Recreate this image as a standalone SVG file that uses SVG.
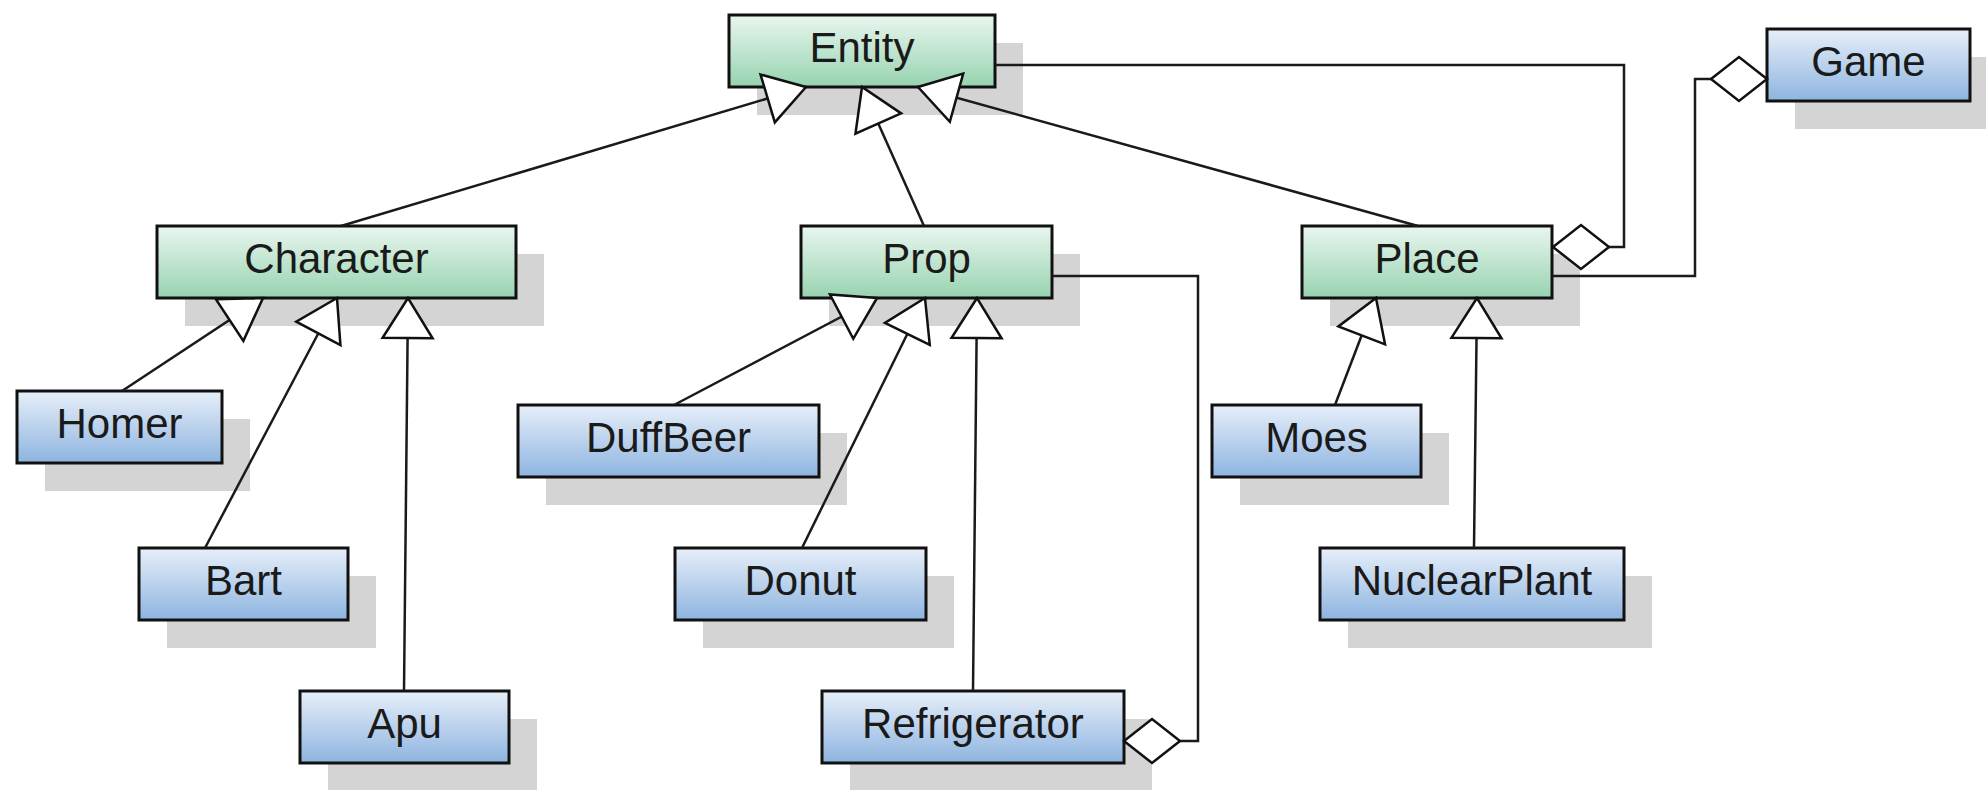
<svg xmlns="http://www.w3.org/2000/svg" width="1986" height="790" viewBox="0 0 1986 790">
<defs>
<linearGradient id="gGreen" x1="0" y1="0" x2="0" y2="1">
<stop offset="0" stop-color="#e9f6ef"/>
<stop offset="1" stop-color="#97d3b0"/>
</linearGradient>
<linearGradient id="gBlue" x1="0" y1="0" x2="0" y2="1">
<stop offset="0" stop-color="#e7eff9"/>
<stop offset="1" stop-color="#8db4e0"/>
</linearGradient>
<marker id="tri" markerUnits="userSpaceOnUse" orient="auto" refX="0" refY="0" markerWidth="60" markerHeight="60" overflow="visible">
<path d="M0,0 L-40,-25 L-40,25 Z" fill="#ffffff" stroke="#111111" stroke-width="2.5" stroke-linejoin="miter"/>
</marker>
<marker id="dia" markerUnits="userSpaceOnUse" orient="auto" refX="0" refY="0" markerWidth="60" markerHeight="60" overflow="visible">
<path d="M0,0 L-28,-22 L-56,0 L-28,22 Z" fill="#ffffff" stroke="#111111" stroke-width="2.5" stroke-linejoin="miter"/>
</marker>
</defs>
<style>
.sh{fill:#d4d4d4}
.g{fill:url(#gGreen);stroke:#111111;stroke-width:3}
.b{fill:url(#gBlue);stroke:#111111;stroke-width:3}
.t{font-family:"Liberation Sans",Arial,sans-serif;font-size:42px;fill:#1a1a1a;text-anchor:middle}
.gen{fill:none;stroke:#1a1a1a;stroke-width:2.5;marker-end:url(#tri)}
.agg{fill:none;stroke:#1a1a1a;stroke-width:2.5;marker-end:url(#dia)}
</style>
<rect width="1986" height="790" fill="#ffffff"/>
<g id="shadows">
<rect class="sh" x="757" y="43" width="266" height="72"/>
<rect class="sh" x="185" y="254" width="359" height="72"/>
<rect class="sh" x="829" y="254" width="251" height="72"/>
<rect class="sh" x="1330" y="254" width="250" height="72"/>
<rect class="sh" x="1795" y="57" width="203" height="72"/>
<rect class="sh" x="45" y="419" width="205" height="72"/>
<rect class="sh" x="167" y="576" width="209" height="72"/>
<rect class="sh" x="328" y="719" width="209" height="72"/>
<rect class="sh" x="546" y="433" width="301" height="72"/>
<rect class="sh" x="703" y="576" width="251" height="72"/>
<rect class="sh" x="850" y="719" width="302" height="72"/>
<rect class="sh" x="1240" y="433" width="209" height="72"/>
<rect class="sh" x="1348" y="576" width="304" height="72"/>
</g>
<g id="Entity"><rect class="g" x="729" y="15" width="266" height="72"/><text class="t" x="862" y="62">Entity</text></g>
<g id="Character"><rect class="g" x="157" y="226" width="359" height="72"/><text class="t" x="336.5" y="273">Character</text></g>
<g id="Prop"><rect class="g" x="801" y="226" width="251" height="72"/><text class="t" x="926.5" y="273">Prop</text></g>
<g id="Place"><rect class="g" x="1302" y="226" width="250" height="72"/><text class="t" x="1427" y="273">Place</text></g>
<g id="Game"><rect class="b" x="1767" y="29" width="203" height="72"/><text class="t" x="1868.5" y="76">Game</text></g>
<g id="Homer"><rect class="b" x="17" y="391" width="205" height="72"/><text class="t" x="119.5" y="438">Homer</text></g>
<g id="Bart"><rect class="b" x="139" y="548" width="209" height="72"/><text class="t" x="243.5" y="595">Bart</text></g>
<g id="Apu"><rect class="b" x="300" y="691" width="209" height="72"/><text class="t" x="404.5" y="738">Apu</text></g>
<g id="DuffBeer"><rect class="b" x="518" y="405" width="301" height="72"/><text class="t" x="668.5" y="452">DuffBeer</text></g>
<g id="Donut"><rect class="b" x="675" y="548" width="251" height="72"/><text class="t" x="800.5" y="595">Donut</text></g>
<g id="Refrigerator"><rect class="b" x="822" y="691" width="302" height="72"/><text class="t" x="973" y="738">Refrigerator</text></g>
<g id="Moes"><rect class="b" x="1212" y="405" width="209" height="72"/><text class="t" x="1316.5" y="452">Moes</text></g>
<g id="NuclearPlant"><rect class="b" x="1320" y="548" width="304" height="72"/><text class="t" x="1472" y="595">NuclearPlant</text></g>
<g id="connectors">
<path class="gen" d="M341,226 L806,87"/>
<path class="gen" d="M924,226 L862,87"/>
<path class="gen" d="M1418,226 L918,87"/>
<path class="gen" d="M122,391 L263,298"/>
<path class="gen" d="M205,548 L337,298"/>
<path class="gen" d="M404,691 L408,298"/>
<path class="gen" d="M674,405 L877,298"/>
<path class="gen" d="M802,548 L925,298"/>
<path class="gen" d="M973,691 L977,298"/>
<path class="gen" d="M1335,405 L1376,298"/>
<path class="gen" d="M1474,548 L1477,298"/>
<path class="agg" d="M995,65 H1624 V247 H1553"/>
<path class="agg" d="M1052,276 H1198 V741 H1124"/>
<path class="agg" d="M1552,276 H1695 V79 H1767"/>
</g>
</svg>
